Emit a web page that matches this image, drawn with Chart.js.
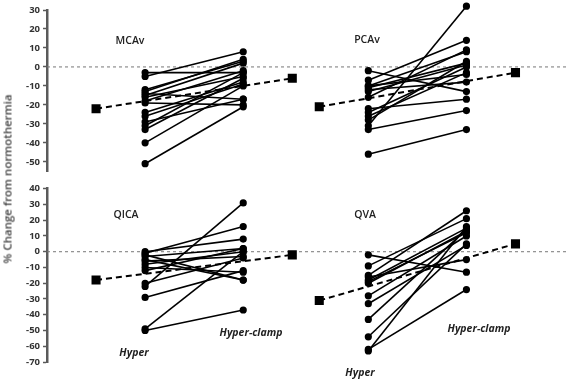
<!DOCTYPE html>
<html>
<head>
<meta charset="utf-8">
<script src="https://cdn.jsdelivr.net/npm/chart.js@4.4.1/dist/chart.umd.min.js"></script>
<style>
  body { margin: 0; background: #fff; }
  #wrap { position: relative; width: 567px; height: 380px; overflow: hidden; font-family: "Open Sans", "Liberation Sans", sans-serif; color: #222; }
  canvas { position: absolute; left: 0; }
  .lbl { position: absolute; font-size: 10.5px; font-weight: 600; transform: translate(-50%, -50%); white-space: nowrap; }
  .it { font-style: italic; font-weight: 700; font-size: 10.5px; }
  #ytitle { position: absolute; left: 7px; top: 179px; font-size: 11.5px; font-weight: 600; color: #444; white-space: nowrap; transform: translate(-50%, -50%) rotate(-90deg); }
</style>
</head>
<body>
<div id="wrap">
  <canvas id="top" width="567" height="180" style="top:0"></canvas>
  <canvas id="bottom" width="567" height="200" style="top:180px"></canvas>
  <div class="lbl" style="left:130px;top:40px">MCAv</div>
  <div class="lbl" style="left:367px;top:39px">PCAv</div>
  <div class="lbl" style="left:126px;top:214px">QICA</div>
  <div class="lbl" style="left:365px;top:214px">QVA</div>
  <div class="lbl it" style="left:134px;top:352px">Hyper</div>
  <div class="lbl it" style="left:251px;top:332px">Hyper-clamp</div>
  <div class="lbl it" style="left:360px;top:372px">Hyper</div>
  <div class="lbl it" style="left:479px;top:328px">Hyper-clamp</div>
  <div id="ytitle">% Change from normothermia</div>
</div>
<script>
// individual subjects, hyper vs hyper-clamp (% change from normothermia)
const mcaHyper = [-3, -5, -12, -13, -14, -15, -16, -18, -19, -24, -26, -29, -31, -33, -40, -51];
const mcaClamp = [-3, 8, 3, 4, -17, 2, -5, -2, -20, -8, -9, -17, -3, -6, -10, -21];
const mcaMean = [-22, -6];

const pcaHyper = [-2, -7, -10, -10, -11, -12, -13, -16, -22, -24, -26, -28, -31, -33, -46];
const pcaClamp = [-13, 14, 8, -4, 2, -8, 1, 9, -17, 0, -3, 3, 32, -23, -33];
const pcaMean = [-21, -3];

const icaHyper = [0, -1, -2, -3, -5, -6, -8, -10, -12, -20, -22, -29, -49, -50];
const icaClamp = [8, 16, -18, 2, -18, -3, 0, -13, 2, -4, 31, -12, 0, -37];
const icaMean = [-18, -2];

const vaHyper = [-2, -9, -15, -16, -18, -19, -20, -28, -33, -43, -54, -62, -63];
const vaClamp = [-13, 21, 26, -5, 15, 12, 13, 10, 4, 14, 5, -24, 16];
const vaMean = [-31, 5];

const topTicks = [30, 20, 10, 0, -10, -20, -30, -40, -50];
const bottomTicks = [40, 30, 20, 10, 0, -10, -20, -30, -40, -50, -60, -70];

// x slots inside a panel: mean, hyper, clamp, mean
const slotMeanL = 1, slotHyper = 2, slotClamp = 4, slotMeanR = 5;
const panelShift = [0, 4.55];
const xMax = 10.6;

function panelSets(hyper, clamp, mean, shift) {
  const sets = [];
  sets.push({
    data: [{ x: slotMeanL + shift, y: mean[0] }, { x: slotMeanR + shift, y: mean[1] }],
    borderColor: '#000', backgroundColor: '#000', borderWidth: 2, borderDash: [6, 4],
    pointStyle: 'rect', pointRadius: 5, pointHoverRadius: 5, order: 2, clip: false
  });
  hyper.forEach((h, i) => {
    sets.push({
      data: [{ x: slotHyper + shift, y: h }, { x: slotClamp + shift, y: clamp[i] }],
      borderColor: '#000', backgroundColor: '#000', borderWidth: 1.6,
      pointRadius: 2.8, pointHoverRadius: 2.8, order: 1, clip: false
    });
  });
  return sets;
}

function zeroLine() {
  return {
    data: [{ x: 0, y: 0 }, { x: xMax, y: 0 }],
    borderColor: '#777', borderWidth: 1, borderDash: [3, 3], pointRadius: 0, order: 3
  };
}

function makeChart(id, sets, ticks, yMin, yMax, pad) {
  new Chart(document.getElementById(id), {
    type: 'line',
    data: { datasets: [zeroLine()].concat(sets) },
    options: {
      responsive: false,
      animation: false,
      layout: { padding: pad, autoPadding: false },
      plugins: { legend: { display: false }, tooltip: { enabled: false } },
      scales: {
        x: { type: 'linear', min: 0, max: xMax, display: false },
        y: {
          min: yMin, max: yMax,
          afterBuildTicks: (s) => { s.ticks = ticks.map(v => ({ value: v })); },
          afterFit: (s) => { s.width = 47; },
          grid: { drawOnChartArea: false, tickLength: 4, tickWidth: 1.5, tickColor: '#5a5a5a' },
          border: { display: true, color: '#5a5a5a', width: 2.5 },
          ticks: { color: '#333', padding: 3, font: { family: 'Open Sans', size: 9.5, weight: '700' } }
        }
      }
    }
  });
}

makeChart('top',
  panelSets(mcaHyper, mcaClamp, mcaMean, panelShift[0]).concat(panelSets(pcaHyper, pcaClamp, pcaMean, panelShift[1])),
  topTicks, -55, 30, { top: 10, bottom: 7, left: 0, right: 0 });

makeChart('bottom',
  panelSets(icaHyper, icaClamp, icaMean, panelShift[0]).concat(panelSets(vaHyper, vaClamp, vaMean, panelShift[1])),
  bottomTicks, -70, 40, { top: 7, bottom: 18, left: 0, right: 0 });
</script>
</body>
</html>
